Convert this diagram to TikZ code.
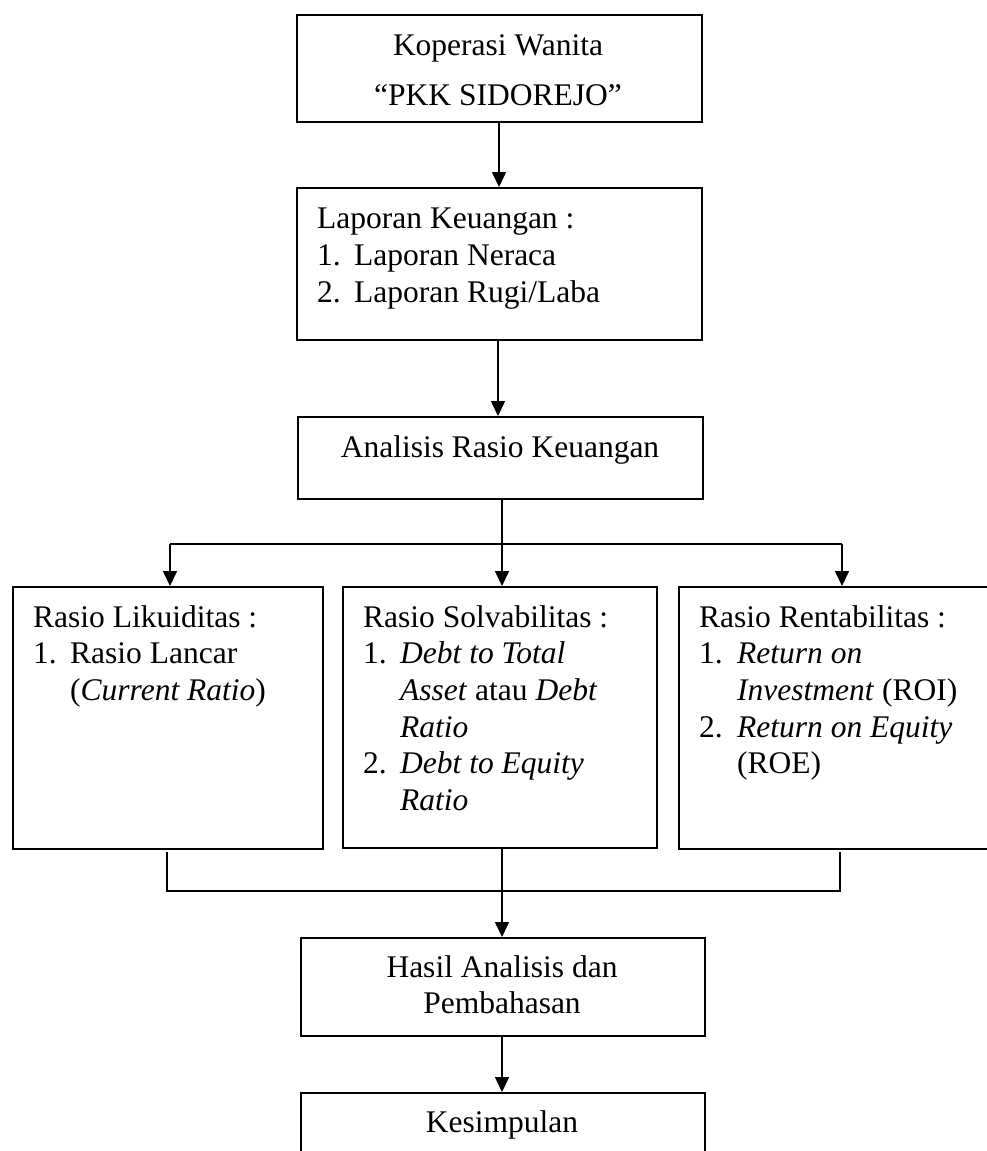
\documentclass[tikz,border=0pt]{standalone}
\usepackage{fontspec}
\setmainfont{Liberation Serif}
\usetikzlibrary{arrows.meta}
\begin{document}
\begin{tikzpicture}[x=1pt,y=-1pt,
  box/.style={draw,line width=1.8pt,rectangle,inner sep=0pt,anchor=north west},
  txt/.style={inner sep=0pt,anchor=base west,font=\fontsize{31.5}{37}\selectfont},
  ctxt/.style={inner sep=0pt,anchor=base,font=\fontsize{31.5}{37}\selectfont},
  conn/.style={line width=1.6pt},
  arr/.style={line width=1.6pt,-{Triangle[width=14pt,length=15pt]}}]
\useasboundingbox (0,0) rectangle (987,1151);
\clip (0,0) rectangle (987,1151);
% boxes
\node[box,minimum width=405pt,minimum height=107pt] (kop) at (296,14) {};
\node[box,minimum width=405pt,minimum height=152pt] (lap) at (296,187) {};
\node[box,minimum width=405pt,minimum height=82pt] (ana) at (297,416) {};
\node[box,minimum width=310pt,minimum height=262pt] (lik) at (12,586) {};
\node[box,minimum width=314pt,minimum height=261pt] (sol) at (342,586) {};
\node[box,minimum width=330pt,minimum height=262pt] (ren) at (678,586) {};
\node[box,minimum width=404pt,minimum height=98pt] (has) at (300,937) {};
\node[box,minimum width=404pt,minimum height=90pt] (kes) at (300,1092) {};
% texts
\node[ctxt] (t1) at (498,55) {Koperasi Wanita};
\node[ctxt] (t2) at (498,105) {``PKK SIDOREJO''};
\node[txt] (t3) at (317,228) {Laporan Keuangan :};
\node[txt] (t4) at (317,265) {1.};
\node[txt] (t5) at (354,265) {Laporan Neraca};
\node[txt] (t6) at (317,302) {2.};
\node[txt] (t7) at (354,302) {Laporan Rugi/Laba};
\node[ctxt] (t8) at (500,457) {Analisis Rasio Keuangan};
\node[txt] (l1) at (33,627) {Rasio Likuiditas :};
\node[txt] (l2) at (33,663) {1.};
\node[txt] (l3) at (70,663) {Rasio Lancar};
\node[txt] (l4) at (70,700) {(\textit{Current Ratio})};
\node[txt] (s1) at (363,627) {Rasio Solvabilitas :};
\node[txt] (s2) at (363,663) {1.};
\node[txt] (s3) at (400,663) {\textit{Debt to Total}};
\node[txt] (s4) at (400,700) {\textit{Asset} atau \textit{Debt}};
\node[txt] (s5) at (400,737) {\textit{Ratio}};
\node[txt] (s6) at (363,773) {2.};
\node[txt] (s7) at (400,773) {\textit{Debt to Equity}};
\node[txt] (s8) at (400,810) {\textit{Ratio}};
\node[txt] (r1) at (699,627) {Rasio Rentabilitas :};
\node[txt] (r2) at (699,663) {1.};
\node[txt] (r3) at (737,663) {\textit{Return on}};
\node[txt] (r4) at (737,700) {\textit{Investment} (ROI)};
\node[txt] (r5) at (699,737) {2.};
\node[txt] (r6) at (737,737) {\textit{Return on Equity}};
\node[txt] (r7) at (737,773) {(ROE)};
\node[ctxt] (h1) at (502,977) {Hasil Analisis dan};
\node[ctxt] (h2) at (502,1013) {Pembahasan};
\node[ctxt] (k1) at (502,1132) {Kesimpulan};
% connectors
\coordinate (kopb) at (499,121);
\coordinate (lapt) at (499,187);
\coordinate (lapb) at (498,339);
\coordinate (anat) at (498,416);
\coordinate (anab) at (502,498);
\coordinate (solt) at (502,586);
\coordinate (hl) at (170,544);
\coordinate (hr) at (842,544);
\coordinate (likt) at (170,586);
\coordinate (rent) at (842,586);
\coordinate (bl1) at (167,852);
\coordinate (bl2) at (167,891);
\coordinate (br1) at (840,852);
\coordinate (br2) at (840,891);
\coordinate (solb) at (502,847);
\coordinate (hast) at (502,937);
\coordinate (hasb) at (502,1035);
\coordinate (kest) at (502,1092);
\draw[arr] (kopb) -- (lapt);
\draw[arr] (lapb) -- (anat);
\draw[arr] (anab) -- (solt);
\draw[conn] (hl) -- (hr);
\draw[arr] (hl) -- (likt);
\draw[arr] (hr) -- (rent);
\draw[conn] (bl1) -- (bl2) -- (br2) -- (br1);
\draw[arr] (solb) -- (hast);
\draw[arr] (hasb) -- (kest);
\end{tikzpicture}
\end{document}
